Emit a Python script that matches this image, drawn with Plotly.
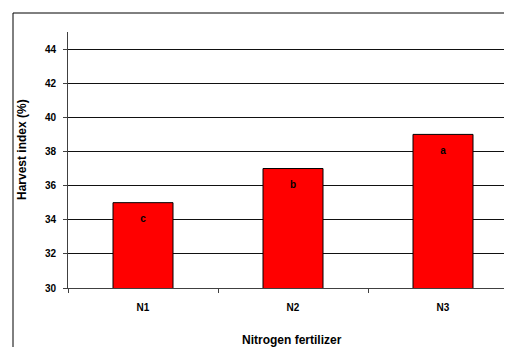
import plotly.graph_objects as go

categories = ["N1", "N2", "N3"]
harvest_index = [35, 37, 39]
letters = ["c", "b", "a"]
y_ticks = [30, 32, 34, 36, 38, 40, 42, 44]

W, H = 512, 347
OFF = 8  # page body margin offset
# plot area in screen pixels
px_left, px_top, px_bottom, px_right = 68, 32, 288, 520
L = px_left - OFF
T = px_top - OFF
B = H - (px_bottom - OFF)
R = W - (px_right - OFF)
pw, ph = W - L - R, H - T - B
cat_px = 150.0


def fx(sx):
    return (sx - OFF - L) / pw


def fy(sy):
    return (H - B - (sy - OFF)) / ph


fig = go.Figure()
fig.add_trace(go.Bar(
    x=categories, y=harvest_index, width=0.4,
    marker=dict(color="#FF0000", line=dict(color="#000000", width=1)),
    showlegend=False, hoverinfo="skip",
))
fig.add_trace(go.Scatter(
    x=categories, y=[v - 1 for v in harvest_index], text=letters,
    mode="text", textposition="middle center",
    textfont=dict(family="Liberation Sans", size=10, color="#000000", weight="bold"),
    showlegend=False, hoverinfo="skip",
))

font = dict(family="Liberation Sans", size=10, color="#000000", weight="bold")

fig.update_layout(
    width=W, height=H,
    margin=dict(l=L, r=R, t=T, b=B),
    paper_bgcolor="#FFFFFF", plot_bgcolor="#FFFFFF",
    font=font,
    xaxis=dict(
        type="category", range=[-0.5, -0.5 + pw / cat_px],
        showgrid=False, zeroline=False,
        showline=True, linecolor="#404040", linewidth=1,
        ticks="outside", ticklen=4, tickcolor="#404040", tickson="boundaries",
        tickfont=font, ticklabelstandoff=10,
    ),
    yaxis=dict(
        range=[30, 45], tickvals=y_ticks,
        showgrid=True, gridcolor="#111111", gridwidth=1,
        zeroline=False,
        showline=True, linecolor="#404040", linewidth=1,
        ticks="outside", ticklen=4, tickcolor="#404040",
        tickfont=font, ticklabelstandoff=5,
    ),
    annotations=[
        dict(text="Harvest index (%)", textangle=-90, xref="paper", yref="paper",
             x=fx(22), y=fy(150), showarrow=False,
             xanchor="center", yanchor="middle",
             font=dict(family="Liberation Sans", size=12, color="#000000", weight="bold")),
        dict(text="Nitrogen fertilizer", xref="paper", yref="paper",
             x=fx(292), y=fy(340), showarrow=False,
             xanchor="center", yanchor="middle",
             font=dict(family="Liberation Sans", size=12, color="#000000", weight="bold")),
    ],
    shapes=[
        dict(type="rect", xref="paper", yref="paper",
             x0=fx(13), x1=fx(540),
             y0=fy(370), y1=fy(13),
             line=dict(color="#000000", width=1), fillcolor="rgba(0,0,0,0)", layer="below"),
    ],
)

fig.write_html("out.html")
